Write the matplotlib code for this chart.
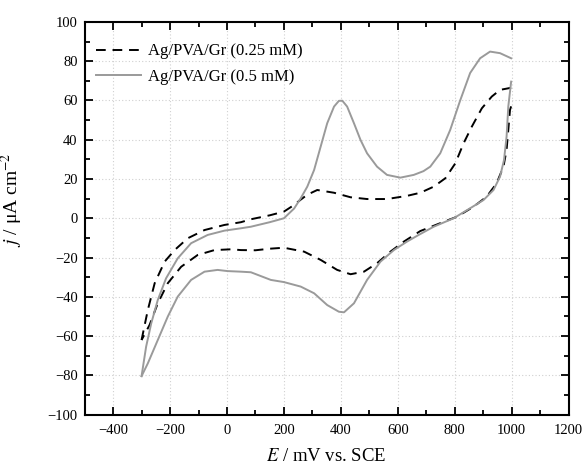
import numpy as np
import matplotlib
matplotlib.use('Agg')
import matplotlib.pyplot as plt
from matplotlib.ticker import MultipleLocator

# 0.25 mM, anodic (upper) branch
e_25_up = [-300, -278, -254, -219, -184, -138, -79, -9, 49, 84, 150, 200, 236, 259, 282, 317,
           376, 434, 492, 562, 632, 679, 726, 767, 802, 831, 860, 895, 930, 959, 988, 998]
j_25_up = [-62, -46.7, -33.1, -22.1, -16.2, -10.2, -6, -3.4, -2, -0.5, 1.5, 3.4, 6.8, 9.5, 12, 14.4,
           13, 10.7, 9.8, 9.8, 11.4, 13, 16.1, 20.4, 28, 38.2, 46.7, 56, 62, 65.4, 66.2, 66.5]
# 0.25 mM, cathodic (lower) branch
e_25_dn = [998, 994, 988, 982, 971, 947, 912, 866, 808, 749, 679, 621, 574, 527, 481, 434, 387,
           329, 271, 200, 150, 100, 49, 14, -44, -103, -161, -208, -243, -272, -300]
j_25_dn = [57, 55.2, 45, 34.8, 26.3, 17.8, 11, 5.9, 0.8, -2.5, -6.5, -11.9, -17, -22.9, -27.2,
           -28.5, -26.3, -21.2, -17, -15, -15.5, -16.3, -16.2, -15.8, -16.2, -18.7, -24.7, -33.1,
           -43.3, -54.4, -62]
# 0.5 mM, anodic (upper) branch
e_50_up = [-300, -284, -266, -243, -214, -173, -126, -68, -9, 49, 84, 150, 200, 236, 259, 282,
           306, 329, 352, 376, 393, 405, 422, 446, 469, 492, 527, 562, 609, 656, 690, 714, 749,
           784, 819, 854, 889, 924, 959, 998]
j_50_up = [-80.4, -65.4, -53.5, -41.6, -30.6, -20.4, -12.7, -8.5, -6.3, -5.1, -4.3, -2, 0, 5,
           10.2, 16.1, 24.6, 36.5, 48.4, 56.9, 59.8, 59.9, 56.9, 48.4, 39.9, 33.1, 26.3, 22.1,
           20.7, 22.1, 24, 26.3, 33.1, 45, 60, 74, 81.5, 84.9, 84.1, 81.5]
# 0.5 mM, cathodic (lower) branch
e_50_dn = [998, 988, 982, 973, 959, 936, 901, 854, 796, 726, 673, 632, 586, 539, 492, 446, 411,
           393, 352, 306, 259, 200, 154, 84, 49, 2, -33, -79, -126, -173, -208, -243, -278, -300]
j_50_dn = [69.6, 56.9, 41.6, 29.7, 21.2, 14.4, 9.3, 5.1, 0, -4.3, -8.5, -11.9, -16.2, -22.1,
           -31.4, -43.3, -47.9, -47.6, -44.2, -38.2, -34.8, -32.5, -31.4, -27.5, -27.2, -26.9,
           -26.3, -27.2, -31.4, -39.9, -50.1, -62, -73.9, -80.4]

plt.rcParams['font.family'] = 'Liberation Serif'
plt.rcParams['mathtext.fontset'] = 'stix'
plt.rcParams['axes.linewidth'] = 1.5

fig = plt.figure(figsize=(5.86, 4.68), dpi=100)
ax = fig.add_axes([0.1444, 0.1141, 0.826, 0.839])

gray = '#9a9a9a'
ax.plot(e_25_up, j_25_up, color='black', lw=1.4, ls=(0, (5, 3.5)), label='Ag/PVA/Gr (0.25 mM)')
ax.plot(e_25_dn, j_25_dn, color='black', lw=1.4, ls=(0, (5, 3.5)))
ax.plot(e_50_up, j_50_up, color=gray, lw=1.4, label='Ag/PVA/Gr (0.5 mM)')
ax.plot(e_50_dn, j_50_dn, color=gray, lw=1.4)

ax.set_xlim(-500, 1200)
ax.set_ylim(-100, 100)
ax.xaxis.set_major_locator(MultipleLocator(200))
ax.xaxis.set_minor_locator(MultipleLocator(100))
ax.yaxis.set_major_locator(MultipleLocator(20))
ax.yaxis.set_minor_locator(MultipleLocator(10))
ax.tick_params(axis='both', which='major', labelsize=10.5, direction='in', length=6, width=1.3,
               top=True, right=True)
ax.tick_params(axis='both', which='minor', direction='in', length=3.5, width=1.3,
               top=True, right=True)
ax.tick_params(axis='x', which='major', pad=7)
ax.tick_params(axis='y', which='major', pad=5)
ax.grid(True, which='major', color='#d0d0d0', ls=(0, (1, 2)), lw=0.8)

ax.set_xlabel(r'$E$ / mV vs. SCE', fontsize=13.5, labelpad=8)
ax.set_ylabel(r'$j$ / μA cm$^{-2}$', fontsize=14)
ax.yaxis.set_label_coords(-0.123, 0.547)

ax.legend(loc='upper left', frameon=False, fontsize=12, handlelength=2.7,
          handletextpad=0.4, labelspacing=0.55, borderaxespad=0.3, bbox_to_anchor=(0.0, 0.975))

fig.savefig('out.png', dpi=100)
